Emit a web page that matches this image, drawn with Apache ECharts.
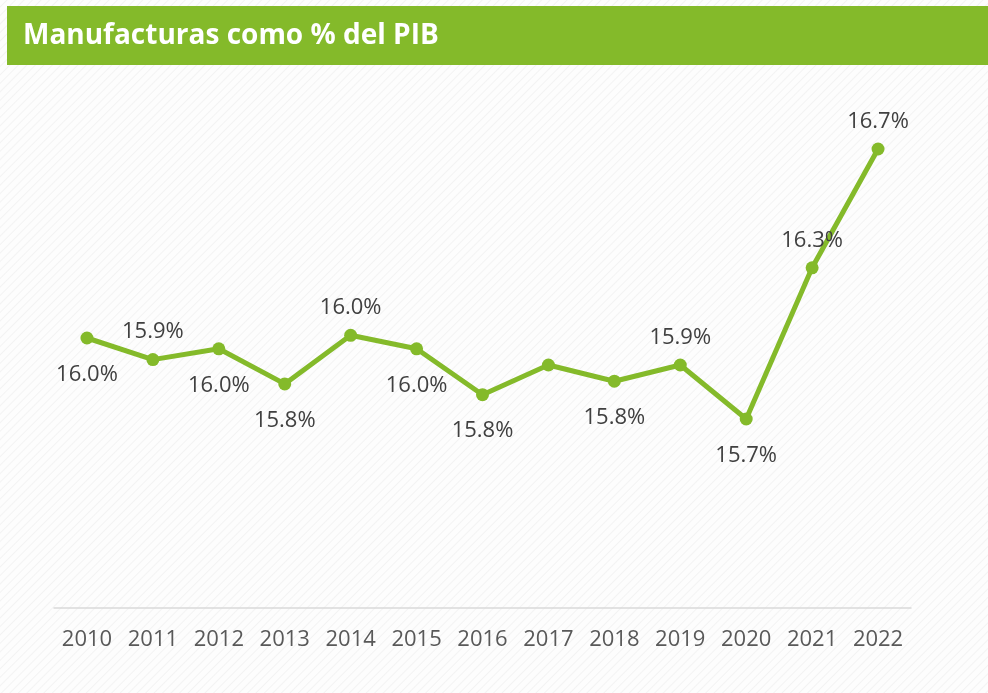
<!DOCTYPE html>
<html>
<head>
<meta charset="utf-8">
<title>Manufacturas como % del PIB</title>
<script src="https://cdn.jsdelivr.net/npm/echarts@6/dist/echarts.min.js"></script>
<style>
  html, body { margin: 0; padding: 0; }
  body {
    background: #fdfdfd repeating-linear-gradient(135deg, #fdfdfd 0px, #fdfdfd 4px, #f3f3f3 5px, #fdfdfd 6px);
  }
</style>
</head>
<body>
<div id="main" style="width: 988px; height: 693px;"></div>
<script type="text/javascript">
// datos
var years = ['2010', '2011', '2012', '2013', '2014', '2015', '2016', '2017', '2018', '2019', '2020', '2021', '2022'];
var share = [16.0, 15.92, 15.96, 15.83, 16.01, 15.96, 15.79, 15.90, 15.84, 15.90, 15.70, 16.26, 16.70];
var titleText = 'Manufacturas como % del PIB';

var green = '#84ba2a';
var font = '"Open Sans", "Noto Sans", sans-serif';

// posición de cada etiqueta (arriba / abajo / oculta)
var side = ['bottom', 'top', 'bottom', 'bottom', 'top', 'bottom', 'bottom', '', 'bottom', 'top', 'bottom', 'top', 'top'];

var points = share.map(function (v, i) {
  var s = side[i];
  return {
    value: v,
    label: s ? { show: true, position: s, distance: s === 'top' ? 10 : 19 } : { show: false }
  };
});

var myChart = echarts.init(document.getElementById('main'));
var option = {
  backgroundColor: 'transparent',
  animation: false,
  graphic: [{
    type: 'rect',
    shape: { x: 7, y: 6, width: 981, height: 59 },
    style: { fill: green },
    z: 0
  }],
  title: {
    text: titleText,
    left: 18,
    top: 17,
    textStyle: { color: '#fff', fontSize: 28, fontWeight: 'bold', fontFamily: font }
  },
  grid: { left: 54, right: 77, top: 68, bottom: 85 },
  xAxis: {
    type: 'category',
    data: years,
    boundaryGap: true,
    axisLine: { lineStyle: { color: '#d9d9d9', width: 1.5 } },
    axisTick: { show: false },
    axisLabel: { color: '#595959', fontSize: 22, fontFamily: font, margin: 21 }
  },
  yAxis: {
    type: 'value',
    min: 15,
    max: 17,
    show: false,
    splitLine: { show: false }
  },
  series: [{
    type: 'line',
    data: points,
    symbol: 'circle',
    symbolSize: 13,
    lineStyle: { color: green, width: 5 },
    itemStyle: { color: green },
    label: {
      color: '#404040',
      fontSize: 22,
      fontFamily: font,
      formatter: function (p) { return p.value.toFixed(1) + '%'; }
    }
  }]
};
myChart.setOption(option);
</script>
</body>
</html>
